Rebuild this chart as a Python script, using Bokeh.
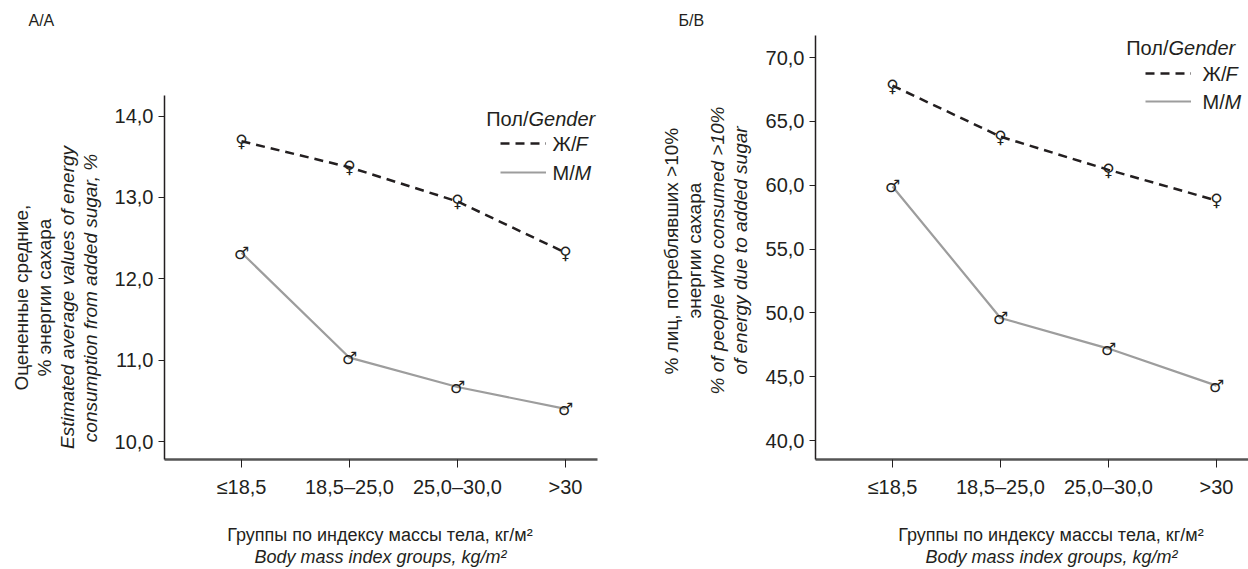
import math
from bokeh.plotting import figure
from bokeh.models import Range1d, FixedTicker, Label, Legend, LegendItem, Title
from bokeh.layouts import row
from bokeh.core.properties import value
from bokeh.embed import file_html
from bokeh.resources import INLINE

# ---------------- data ----------------
groups = ["≤18,5", "18,5–25,0", "25,0–30,0", ">30"]
x_pos = [1, 2, 3, 4]

a_female = [13.69, 13.37, 12.95, 12.32]
a_male = [12.32, 11.03, 10.67, 10.40]
a_yticks = [10, 11, 12, 13, 14]
a_ytick_labels = ["10,0", "11,0", "12,0", "13,0", "14,0"]

b_female = [67.8, 63.8, 61.2, 58.8]
b_male = [59.9, 49.6, 47.2, 44.3]
b_yticks = [40, 45, 50, 55, 60, 65, 70]
b_ytick_labels = ["40,0", "45,0", "50,0", "55,0", "60,0", "65,0", "70,0"]

FONT = "Liberation Sans"
SYM = "DejaVu Sans"
INK = "#231f20"
GREY = "#9d9d9d"
FT, FB = 35, 459  # shared frame top / bottom (canvas px)

# approximate Arial advance widths (em) for centring rotated / offset titles
_W = dict(zip("abcdefghijklmnopqrstuvwxyz",
              [.556, .556, .5, .556, .556, .278, .556, .556, .222, .222, .5, .222, .833,
               .556, .556, .556, .556, .333, .5, .278, .556, .5, .722, .5, .5, .5]))
_W.update(dict(zip("абвгдежзийклмнопрстуфхцчшщъыьэюя",
                   [.556, .573, .531, .365, .583, .556, .669, .458, .559, .559, .438, .583, .688,
                    .552, .556, .542, .556, .5, .458, .5, .823, .5, .56, .521, .802, .823, .625,
                    .719, .51, .51, .75, .542])))
_W.update({" ": .278, ",": .278, "%": .889, ">": .584, "/": .278, "–": .556, "²": .333,
           "E": .667, "B": .667, "О": .778, "Г": .5, "П": .719})


def text_w(s, size):
    return sum(_W.get(ch, .556) for ch in s) * size


class Geo:
    """canvas-pixel geometry of one panel"""
    def __init__(self, page_x, width, frame_l, frame_r, x0px, x1px, y0, y0px, y1, y1px, axis_top):
        self.page_x, self.width = page_x, width
        self.fl, self.fr, self.ft, self.fb = frame_l, frame_r, FT, FB
        self.xppu = (x1px - x0px) / 3.0
        self.xs = 1 - (x0px - frame_l) / self.xppu
        self.xe = 1 + (frame_r - x0px) / self.xppu
        self.yppu = (y0px - y1px) / (y1 - y0)
        self.ye = y1 + (y1px - FT) / self.yppu
        self.ys = y0 - (FB - y0px) / self.yppu
        self.ytop = y1 + (y1px - axis_top) / self.yppu

    def dx(self, px):
        return self.xs + (px - self.fl) / self.xppu

    def dy(self, py):
        return self.ye - (py - self.ft) / self.yppu


def panel(geo, female, male, yticks, ytick_labels, letter, letter_px,
          ylabels, ylab_cy, xlab_cx, leg, ysp):
    p = figure(width=geo.width, height=569, output_backend="svg", toolbar_location=None,
               x_range=Range1d(geo.xs, geo.xe), y_range=Range1d(geo.ys, geo.ye), title=letter)
    p.min_border_left = geo.fl - geo.page_x
    p.min_border_right = geo.page_x + geo.width - geo.fr
    p.min_border_top = FT
    p.min_border_bottom = 569 - FB
    p.outline_line_color = None
    p.grid.visible = False
    p.background_fill_color = "white"
    p.border_fill_color = "white"

    p.title.align = "left"
    p.title.offset = letter_px - geo.fl
    p.title.text_font = FONT
    p.title.text_font_size = "16px"
    p.title.text_font_style = "normal"
    p.title.text_color = INK
    p.title.standoff = 14

    p.xaxis.ticker = FixedTicker(ticks=x_pos)
    p.xaxis.major_label_overrides = {x: g for x, g in zip(x_pos, groups)}
    p.yaxis.ticker = FixedTicker(ticks=yticks)
    p.yaxis.major_label_overrides = {t: s for t, s in zip(yticks, ytick_labels)}
    p.yaxis.bounds = (geo.ys, geo.ytop)
    for ax in (p.xaxis, p.yaxis):
        ax.minor_tick_line_color = None
        ax.major_tick_in = 0
        ax.major_label_text_font = FONT
        ax.major_label_text_font_size = "20px"
        ax.major_label_text_color = INK
    p.xaxis.axis_line_color = "#555555"
    p.xaxis.axis_line_width = 2.5
    p.xaxis.major_tick_line_color = INK
    p.xaxis.major_tick_out = 8
    p.xaxis.major_label_standoff = 8
    p.yaxis.axis_line_color = INK
    p.yaxis.axis_line_width = 1.5
    p.yaxis.major_tick_line_color = INK
    p.yaxis.major_tick_out = 6
    p.yaxis.major_label_standoff = 5

    rf = p.line(x_pos, female, line_color=INK, line_width=2.5, line_dash="9 6")
    rm = p.line(x_pos, male, line_color=GREY, line_width=2.2)
    p.text(x_pos, female, text=["♀"] * len(female), text_font=value(SYM), text_font_size="17px",
           text_align="center", text_baseline="middle", text_color=INK)
    p.text(x_pos, male, text=["♂"] * len(male), text_font=value(SYM), text_font_size="17px",
           text_align="center", text_baseline="middle", text_color=INK)

    # legend: glyph samples from Bokeh's legend, texts as labels inside the frame
    gx, g1y, g2y, tx, title_r, title_y = leg
    legend = Legend(items=[LegendItem(label=" ", renderers=[rf]), LegendItem(label=" ", renderers=[rm])],
                    location=(gx - geo.fl, geo.fb - (g2y + 10)), padding=0, margin=0, spacing=g2y - g1y - 20,
                    glyph_width=46, glyph_height=20, label_height=20, label_width=1, label_standoff=0,
                    border_line_color=None, background_fill_alpha=0, label_text_font_size="1px")
    p.add_layout(legend)

    def lab(px, py, text, italic=False, align="left"):
        p.add_layout(Label(x=geo.dx(px), y=geo.dy(py), text=text, text_font=FONT,
                           text_font_size="20px", text_font_style="italic" if italic else "normal",
                           text_align=align, text_baseline="middle", text_color=INK))

    lab(title_r - 67, title_y, "Пол/", align="right")
    lab(title_r - 67, title_y, "Gender", italic=True)
    lab(tx, g1y, "Ж/")
    lab(tx + 23, g1y, "F", italic=True)
    lab(tx, g2y, "М/")
    lab(tx + 22, g2y, "M", italic=True)

    # y-axis title lines: spacer, then lines from the axis outwards
    p.add_layout(Title(text=" ", text_font_size="1px", standoff=ysp), "left")
    ys = 19
    for text, it in reversed(ylabels):
        start = ylab_cy + text_w(text, ys) / 2
        t = Title(text=text, align="left", offset=geo.fb - start, text_font=FONT,
                  text_font_size=f"{ys}px", text_font_style="italic" if it else "normal",
                  text_color=INK, standoff=0)
        p.add_layout(t, "left")

    # x-axis title lines
    p.add_layout(Title(text=" ", text_font_size="1px", standoff=19), "below")
    xs = 18
    for text, it in [("Группы по индексу массы тела, кг/м²", False), ("Body mass index groups, kg/m²", True)]:
        off = xlab_cx - text_w(text, xs) / 2 - geo.fl
        t = Title(text=text, align="left", offset=off, text_font=FONT, text_font_size=f"{xs}px",
                  text_font_style="italic" if it else "normal", text_color=INK, standoff=0)
        p.add_layout(t, "below")
    return p


ga = Geo(0, 624, 164, 597, 241, 565, 10, 441, 14, 115.5, 95)
gb = Geo(624, 624, 815, 1248, 892, 1216, 40, 440, 70, 57, 35)

pa = panel(ga, a_female, a_male, a_yticks, a_ytick_labels, "А/А", 28,
           [("Оцененные средние,", False), ("% энергии сахара", False),
            ("Estimated average values of energy", True), ("consumption from added sugar, %", True)],
           297, 380,
           (500, 143, 172, 552, 595, 118), 8)
pb = panel(gb, b_female, b_male, b_yticks, b_ytick_labels, "Б/В", 678,
           [("% лиц, потреблявших >10%", False), ("энергии сахара", False),
            ("% of people who consumed >10%", True), ("of energy due to added sugar", True)],
           250, 1051,
           (1145, 73, 101, 1202, 1235, 47), 9)

layout = row(pa, pb)
open("out.html", "w").write(file_html(layout, INLINE))
